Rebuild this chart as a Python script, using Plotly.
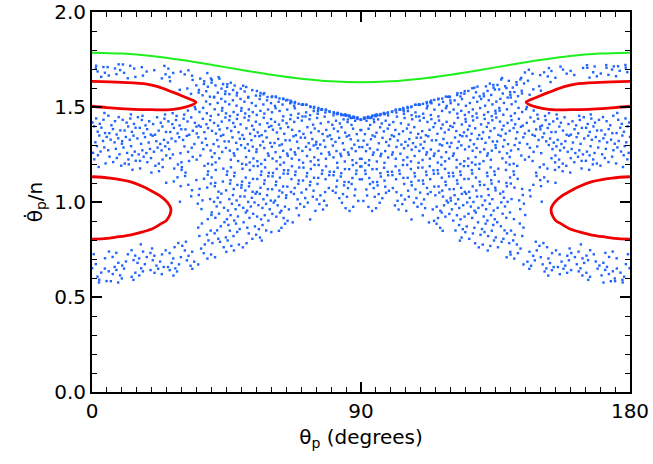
import numpy as np
import plotly.graph_objects as go

# ---------------- data ----------------
# Green KAM curve (theta in degrees, theta_dot/n)
green_theta = [0, 10, 20, 30, 40, 50, 60, 70, 80, 90, 100, 110, 120, 130, 140, 150, 160, 170, 180]
green_rate = [1.786, 1.781, 1.768, 1.747, 1.722, 1.695, 1.670, 1.649, 1.635, 1.630,
              1.635, 1.649, 1.670, 1.695, 1.722, 1.747, 1.768, 1.781, 1.786]

# 3:2 resonance island (left half, closed loop)
isl32_theta = [0, 10, 18.3, 22, 27, 31, 33.5, 34.8, 32.5, 29.4, 25, 20, 12.7, 5, 0]
isl32_rate = [1.635, 1.630, 1.621, 1.607, 1.578, 1.553, 1.537, 1.525, 1.505, 1.493, 1.485, 1.486, 1.489, 1.497, 1.504]

# synchronous island (left half, closed loop)
isl11_theta = [0, 6, 12.7, 17, 20.4, 23, 25, 26.4, 25, 23, 20.4, 17, 12.7, 8, 4, 0]
isl11_rate = [1.133, 1.126, 1.107, 1.082, 1.054, 1.030, 1.002, 0.961, 0.905, 0.885, 0.861, 0.843, 0.826, 0.815, 0.807, 0.805]

# chaotic sea: dots per 5 deg x 0.05 cell, rows from 1.75 downwards, columns 0..90 deg
sea_rows = [
    "333111000000000000",  # 1.70-1.75
    "333233321000000000",  # 1.65-1.70
    "000001254420000000",  # 1.60-1.65
    "000001255543200000",  # 1.55-1.60
    "000000124444432000",  # 1.50-1.55
    "111112345454444441",  # 1.45-1.50
    "434444444444444445",  # 1.40-1.45
    "444444444444444444",  # 1.35-1.40
    "444444334444444444",  # 1.30-1.35
    "434443334444444444",  # 1.25-1.30
    "334432233344444344",  # 1.20-1.25
    "112233223344444444",  # 1.15-1.20
    "000012223344444444",  # 1.10-1.15
    "000001233444443333",  # 1.05-1.10
    "000001133444433333",  # 1.00-1.05
    "000000023444433322",  # 0.95-1.00
    "000000023434421000",  # 0.90-0.95
    "000000023333210000",  # 0.85-0.90
    "000000033332100000",  # 0.80-0.85
    "000112233321000000",  # 0.75-0.80
    "233433332100000000",  # 0.70-0.75
    "223344310000000000",  # 0.65-0.70
    "343333100000000000",  # 0.60-0.65
    "331000000000000000",  # 0.55-0.60
]
sea_top = 1.75
sea_dv = 0.05
sea_dtheta = 5.0

# edges of the chaotic sea (left half)
edge_theta = [0, 10, 20, 30, 35, 40, 45, 50, 55, 60, 65, 70, 75, 80, 85, 90]
upper_rate = [1.725, 1.725, 1.72, 1.715, 1.70, 1.675, 1.645, 1.615, 1.59, 1.565, 1.54, 1.52, 1.50, 1.48, 1.46, 1.44]
lower_rate = [0.565, 0.575, 0.59, 0.62, 0.64, 0.68, 0.71, 0.74, 0.77, 0.80, 0.84, 0.87, 0.90, 0.925, 0.94, 0.95]

# dense streak along the upper edge near 90 deg: dots per 5 deg bin (55..90)
streak_start = [55, 60, 65, 70, 75, 80, 85]
streak_count = [3, 5, 6, 7, 8, 9, 16]

# ---------------- build the dot cloud ----------------
A1, A2 = 0.7548776662466927, 0.5698402909980532
state = {"n": 0}


def nxt():
    state["n"] += 1
    n = state["n"]
    return (0.5 + A1 * n) % 1.0, (0.5 + A2 * n) % 1.0


def island_bounds(th, ths, rs):
    ths = np.array(ths); rs = np.array(rs)
    k = int(np.argmax(ths))
    top_t, top_r = ths[:k + 1], rs[:k + 1]
    bot_t, bot_r = ths[k:][::-1], rs[k:][::-1]
    tc = min(th, ths[k])
    return np.interp(tc, top_t, top_r), np.interp(tc, bot_t, bot_r), ths[k]


def allowed(th, v):
    if v > np.interp(th, edge_theta, upper_rate) or v < np.interp(th, edge_theta, lower_rate):
        return False
    t, b, tip = island_bounds(th, isl32_theta, isl32_rate)
    if th < tip + 2.5 and b - 0.02 < v < t + 0.015:
        return False
    t, b, tip = island_bounds(th, isl11_theta, isl11_rate)
    if th < tip + 4 and b - 0.035 < v < t + 0.04:
        return False
    return True


sea_x, sea_y = [], []
for side in (0, 1):
    for i, row in enumerate(sea_rows):
        v0 = sea_top - (i + 1) * sea_dv
        for j, ch in enumerate(row):
            cnt = int(ch)
            th0 = j * sea_dtheta
            got, tries = 0, 0
            while got < cnt and tries < 60:
                tries += 1
                u, w = nxt()
                th = th0 + u * sea_dtheta
                v = v0 + w * sea_dv
                if allowed(th, v):
                    sea_x.append(th if side == 0 else 180 - th)
                    sea_y.append(v)
                    got += 1
    for s, c in zip(streak_start, streak_count):
        for k in range(c):
            u, w = nxt()
            th = s + u * 5
            v = np.interp(th, edge_theta, upper_rate) - 0.01 * w
            sea_x.append(th if side == 0 else 180 - th)
            sea_y.append(v)

# ---------------- figure ----------------
fig = go.Figure()
fig.add_trace(go.Scatter(x=sea_x, y=sea_y, mode="markers",
                         marker=dict(size=2.4, color="#1f64ff", symbol="square", line=dict(width=0)),
                         hoverinfo="skip", showlegend=False))
fig.add_trace(go.Scatter(x=green_theta, y=green_rate, mode="lines", line=dict(color="#1ef01e", width=2.0, shape="spline"),
                         showlegend=False))
for ths, rs in ((isl32_theta, isl32_rate), (isl11_theta, isl11_rate)):
    fig.add_trace(go.Scatter(x=ths, y=rs, mode="lines", line=dict(color="#f00000", width=2.8, shape="spline"),
                             showlegend=False))
    fig.add_trace(go.Scatter(x=[180 - t for t in ths], y=rs, mode="lines",
                             line=dict(color="#f00000", width=2.8, shape="spline"), showlegend=False))

font = dict(family="DejaVu Sans", size=20, color="black")
axis_common = dict(showgrid=False, zeroline=False, showline=True, linecolor="black", linewidth=2,
                   ticks="inside", ticklen=10, tickwidth=1.5, tickcolor="black", mirror="ticks",
                   tickfont=font, automargin=False)
fig.update_xaxes(range=[0, 180], tick0=0, dtick=90,
                 minor=dict(dtick=5, ticks="inside", ticklen=5, tickwidth=1.2, tickcolor="black"),
                 title=dict(text="θ<sub>p</sub> (degrees)", font=font, standoff=8), **axis_common)
fig.update_yaxes(range=[0, 2], tick0=0, dtick=0.5, tickformat=".1f",
                 minor=dict(dtick=0.1, ticks="inside", ticklen=5, tickwidth=1.2, tickcolor="black"),
                 title=dict(text="θ\u0307<sub>p</sub>/n", font=font, standoff=6), **axis_common)
fig.update_layout(width=653, height=464, margin=dict(l=92, r=23, t=12, b=72),
                  paper_bgcolor="white", plot_bgcolor="white", font=font)
fig.write_html("out.html")
